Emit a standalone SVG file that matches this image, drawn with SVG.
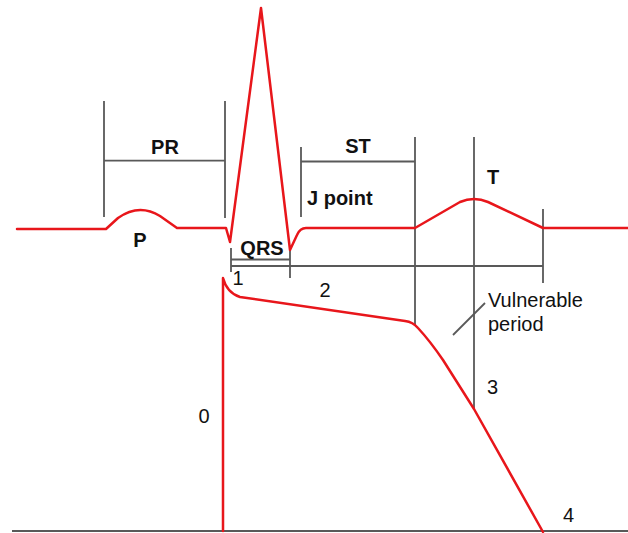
<svg xmlns="http://www.w3.org/2000/svg" width="628" height="533" viewBox="0 0 628 533">
<style>
.red{fill:none;stroke:#e8161b;stroke-width:2.5;stroke-linejoin:round;stroke-linecap:round}
.g{fill:none;stroke:#595959;stroke-width:1.8}
.b{font-family:"Liberation Sans",Arial,sans-serif;font-weight:bold;font-size:20px;fill:#111}
.n{font-family:"Liberation Sans",Arial,sans-serif;font-size:20px;fill:#111}
</style>
<rect width="628" height="533" fill="#fff"/>
<g id="connectors">
<path class="g" d="M104 101V217M225 101V218M104 160.7H225"/>
<path class="g" d="M301 147V217M301 161.5H415M415 137V326M474 137V409M543 209V283"/>
<path class="g" d="M231 248V272M290 250V278M231 259.5H290M231 266H543"/>
<path class="g" d="M453 335L485 303"/>
<path class="g" d="M12 531H628"/>
</g>
<g id="ecg">
<path class="red" d="M17 229H106L118 218Q139 203 160 216L177 228H226L230 242L261 8L290 250L297 235Q300 228 306 228H415L460 202Q474 196 488 202L543 228H628"/>
</g>
<g id="ap">
<path class="red" d="M223 531V278Q227 293 240 297L405 321Q413 322 418 328Q430 341 443 360L474 409L543 532"/>
</g>
<g id="labels">
<text class="b" x="165" y="154" text-anchor="middle">PR</text>
<text class="b" x="140" y="247" text-anchor="middle">P</text>
<text class="b" x="262" y="255" text-anchor="middle">QRS</text>
<text class="b" x="358" y="153" text-anchor="middle">ST</text>
<text class="b" x="307" y="205">J point</text>
<text class="b" x="493" y="184" text-anchor="middle">T</text>
<text class="n" x="238" y="285" text-anchor="middle">1</text>
<text class="n" x="325" y="297" text-anchor="middle">2</text>
<text class="n" x="204" y="423" text-anchor="middle">0</text>
<text class="n" x="487" y="394">3</text>
<text class="n" x="563" y="522">4</text>
<text class="n" x="488" y="307">Vulnerable</text>
<text class="n" x="488" y="331">period</text>
</g>
</svg>
